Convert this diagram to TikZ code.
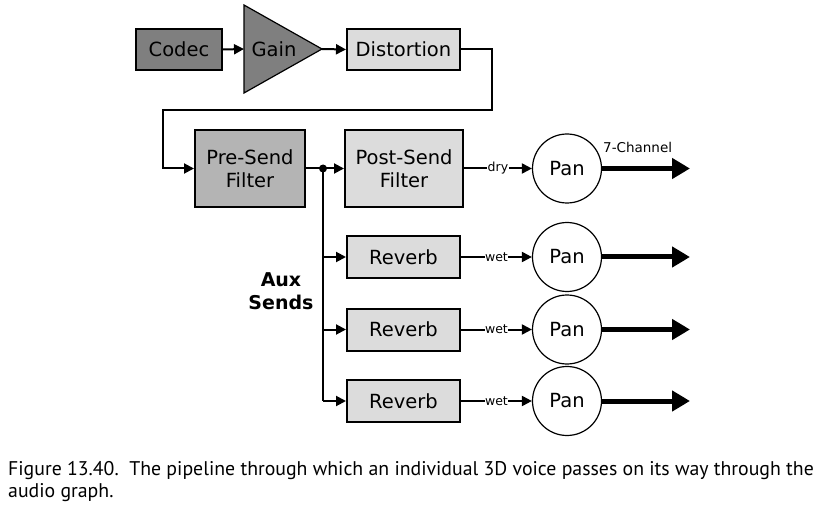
\documentclass[tikz,border=0pt]{standalone}
\usepackage{fontspec}
\setmainfont{DejaVu Sans}
\newfontfamily\capfont{PT Sans}
\usetikzlibrary{arrows.meta,shapes.geometric}
\definecolor{darkg}{HTML}{7F7F7F}
\definecolor{midg}{HTML}{B4B4B4}
\definecolor{lightg}{HTML}{DCDCDC}
\tikzset{
  blk/.style={draw=black, line width=2pt, inner sep=0pt, font=\fontsize{19.5}{23}\selectfont, align=center},
  panc/.style={draw=black, line width=1.2pt, circle, minimum size=69pt, inner sep=0pt, font=\fontsize{19.5}{23}\selectfont},
  conn/.style={line width=2pt, -{Triangle[length=10pt,width=10pt]}},
  wire/.style={line width=2pt},
  fat/.style={line width=5pt, -{Triangle[length=18pt,width=20pt]}},
  lbl/.style={fill=white, inner sep=0.5pt, font=\fontsize{12.5}{14}\selectfont},
}
\begin{document}
\begin{tikzpicture}[x=1pt,y=-1pt]
\useasboundingbox (0,0) rectangle (823,508);
% top row
\node[blk, fill=darkg, minimum width=86pt, minimum height=41pt] (codec) at (179,49.5) {Codec};
\draw[line width=1.2pt, fill=darkg] (244,5) -- (322,49) -- (244,93) -- cycle;
\coordinate (gainin) at (244,49);
\coordinate (gainout) at (322,49);
\node[font=\fontsize{19.5}{23}\selectfont] (gain) at (274,49) {Gain};
\node[blk, fill=lightg, minimum width=113pt, minimum height=41pt] (dist) at (403.5,49.5) {Distortion};
\draw[conn] (codec.east) -- (gainin);
\draw[conn] (gainout) -- (dist.west);
% pre-send
\node[blk, fill=midg, minimum width=110pt, minimum height=77pt] (pre) at (250,168.5) {Pre-Send\\Filter};
\draw[conn] (dist.east) -- (492,49.5) -- (492,110) -- (163,110) |- (pre.west);
\coordinate (split) at (323,168.5);
\node[blk, fill=lightg, minimum width=118pt, minimum height=77pt] (post) at (404,168.5) {Post-Send\\Filter};
\draw[wire] (pre.east) -- (split);
\fill (split) circle (4pt);
\draw[conn] (split) -- (post.west);
\node[panc] (pan0) at (567,168.5) {Pan};
\draw[conn] (post.east) -- node[lbl] {dry} (pan0.west);
\coordinate (out0) at (690,168.5);
\draw[fat] (pan0.east) -- (out0);
\node[anchor=south west, inner sep=0pt, font=\fontsize{13.5}{16}\selectfont] (seven) at (603,153) {7-Channel};
% reverbs
\foreach \i/\y in {1/257,2/329.5,3/401} {
  \node[blk, fill=lightg, minimum width=113pt, minimum height=42pt] (rev\i) at (403.5,\y) {Reverb};
  \node[panc] (pan\i) at (567,\y) {Pan};
  \coordinate (b\i) at (323,\y);
  \coordinate (out\i) at (690,\y);
  \draw[conn] (b\i) -- (rev\i.west);
  \draw[conn] (rev\i.east) -- node[lbl] {wet} (pan\i.west);
  \draw[fat] (pan\i.east) -- (out\i);
}
\draw[wire] (split) -- (b3);
\node[font=\bfseries\fontsize{19}{23}\selectfont, align=center] (aux) at (281,291) {Aux\\Sends};
% caption
\node[anchor=base west, inner sep=0pt, align=left, font=\capfont\fontsize{19.8}{22}\selectfont] (cap) at (8,497) {Figure 13.40.\ \ The pipeline through which an individual 3D voice passes on its way through the\\audio graph.};
\end{tikzpicture}
\end{document}
